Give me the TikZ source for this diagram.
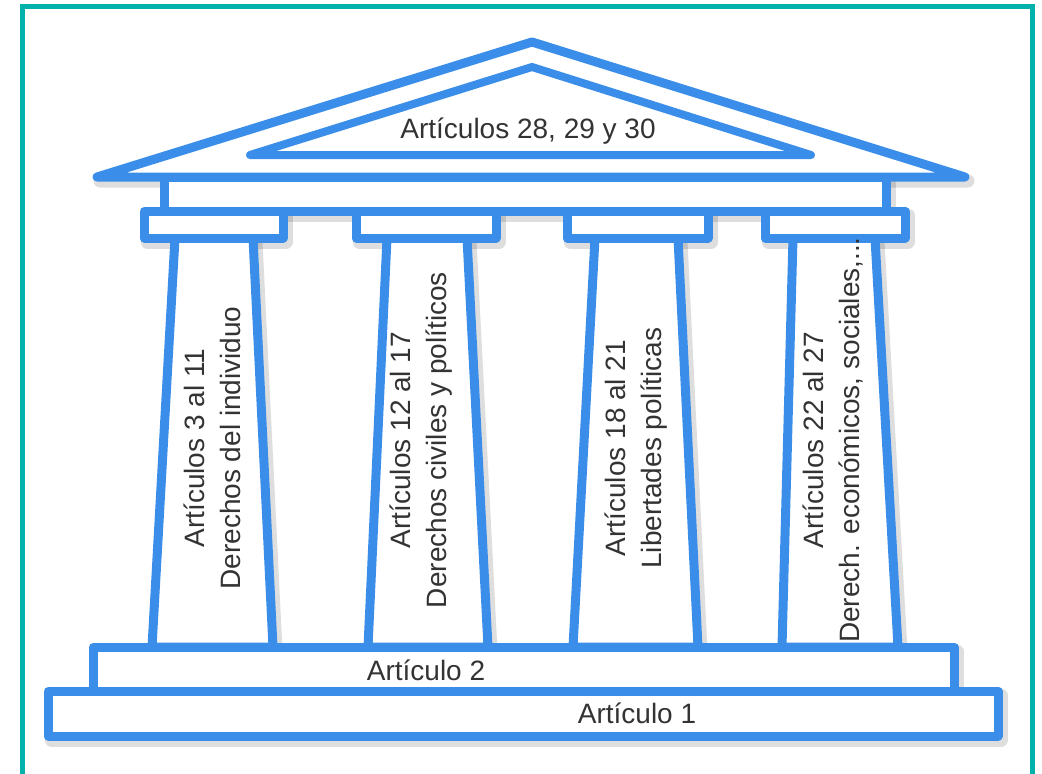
\documentclass[tikz,border=0pt]{standalone}
\usepackage{fontspec}
\setmainfont{Liberation Sans}
\definecolor{frameteal}{HTML}{00B2AB}
\definecolor{templeblue}{HTML}{3A8EEA}
\definecolor{txtgray}{HTML}{333333}
\tikzset{
  part/.style={draw=templeblue, fill=white, line width=9pt, line join=round},
  shd/.style={draw=black, opacity=0.13, line width=13pt, line join=round},
  lbl/.style={text=txtgray, font=\fontsize{28}{36}\selectfont, inner sep=0pt},
  collbl/.style={lbl, rotate=90, align=center}
}
\begin{document}
\begin{tikzpicture}[x=1pt,y=-1pt]
\useasboundingbox (0,0) rectangle (1042,774);
\fill[white] (0,0) rectangle (1042,774);
% frame (bottom edge outside the picture)
\draw[frameteal, line width=5pt] (22.5,800) -- (22.5,6.5) -- (1032.5,6.5) -- (1032.5,800);
% shadows
\begin{scope}[shift={(3,4)}]
  \draw[shd] (48,691) rectangle (998,736);
  \draw[shd] (93,647) rectangle (954,691);
  \draw[shd] (175,238) -- (152,647) -- (273,647) -- (253,238);
  \draw[shd] (387,238) -- (368,647) -- (488,647) -- (467,238);
  \draw[shd] (595,238) -- (573,647) -- (698,647) -- (678,238);
  \draw[shd] (793,238) -- (782,647) -- (898,647) -- (875,238);
  \draw[shd] (144,211) rectangle (283,238);
  \draw[shd] (356,211) rectangle (496,238);
  \draw[shd] (567,211) rectangle (708,238);
  \draw[shd] (765,211) rectangle (905,238);
  \draw[shd] (164,177) rectangle (886,211);
  \draw[shd] (97,177) -- (532,42) -- (965,177) -- cycle;
\end{scope}
% columns
\draw[part] (175,238) -- (152,647) -- (273,647) -- (253,238) -- cycle;
\draw[part] (387,238) -- (368,647) -- (488,647) -- (467,238) -- cycle;
\draw[part] (595,238) -- (573,647) -- (698,647) -- (678,238) -- cycle;
\draw[part] (793,238) -- (782,647) -- (898,647) -- (875,238) -- cycle;
% capitals
\draw[part] (144,211) rectangle (283,238);
\draw[part] (356,211) rectangle (496,238);
\draw[part] (567,211) rectangle (708,238);
\draw[part] (765,211) rectangle (905,238);
% entablature
\draw[part] (164,177) rectangle (886,211);
% roof
\draw[part] (97,177) -- (532,42) -- (965,177) -- cycle;
\draw[part, line width=8pt] (250,155) -- (532,67) -- (811,155) -- cycle;
% base steps
\draw[part] (93,647) rectangle (954,691);
\draw[part] (48,691) rectangle (998,736);
% texts
\node[lbl, anchor=base] (roof) at (528,138) {Artículos 28, 29 y 30};
\node[lbl, anchor=base] (step2) at (426,680) {Artículo 2};
\node[lbl, anchor=base] (step1) at (637,723) {Artículo 1};
\node[collbl] (c1) at (212,448) {Artículos 3 al 11\\Derechos del individuo};
\node[collbl] (c2) at (421,440) {Artículos 12 al 17\\Derechos civiles y políticos};
\node[collbl] (c3) at (636,448) {Artículos 18 al 21\\Libertades políticas};
\node[collbl] (c4) at (833,440) {Artículos 22 al 27\\Derech. económicos, sociales,...};
\end{tikzpicture}
\end{document}
